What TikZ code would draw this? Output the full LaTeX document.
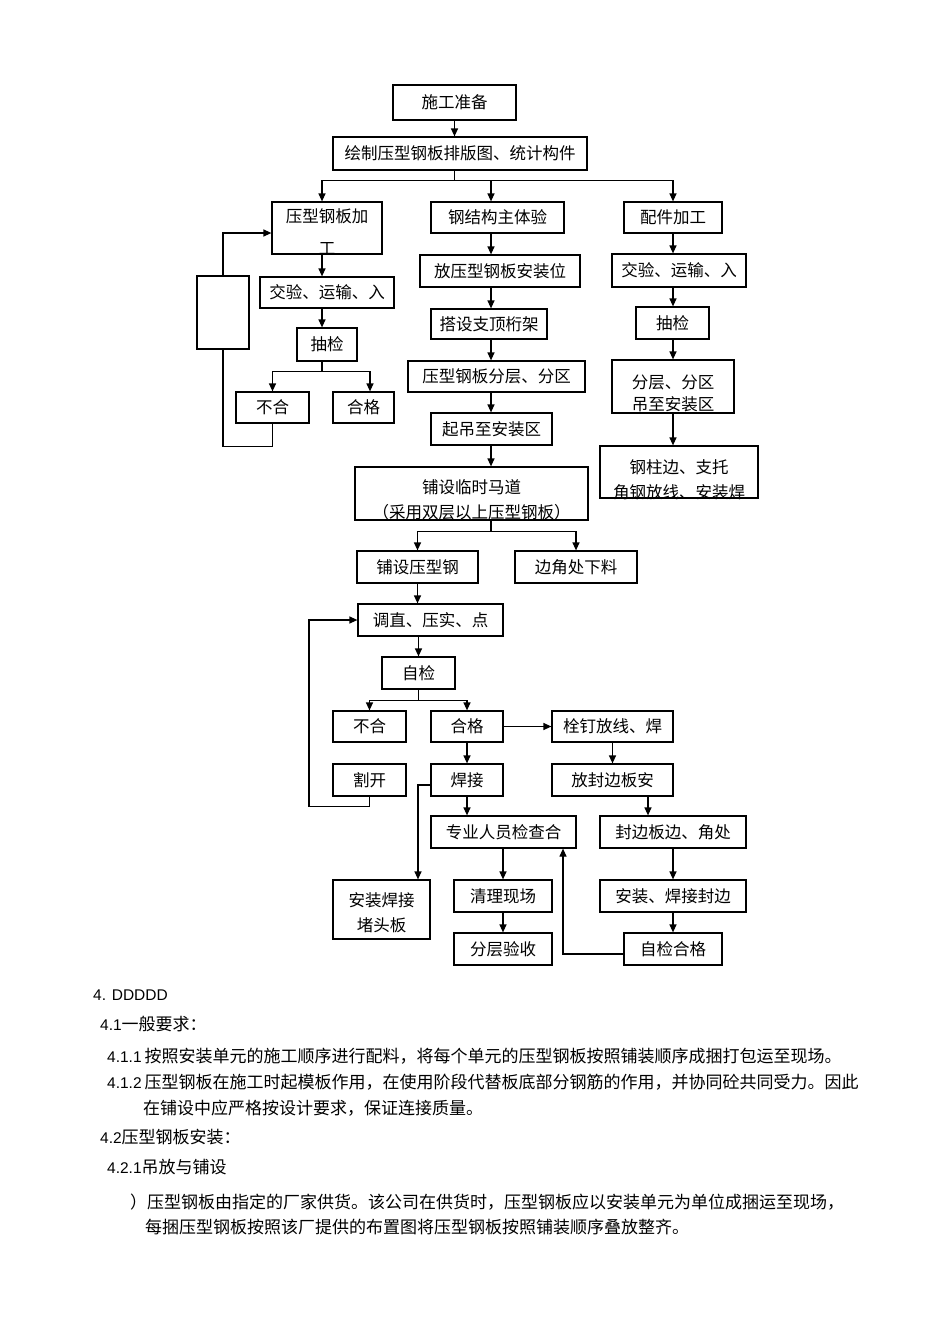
\documentclass[tikz,border=0pt]{standalone}
\usepackage{fontspec}
\setmainfont{Liberation Sans}
\newfontfamily\cjk{Noto Sans CJK SC}
\newfontfamily\lat{Liberation Sans}
\usetikzlibrary{arrows.meta,calc}
\newcommand{\secno}[1]{{\lat\fontsize{15.5}{18}\selectfont #1}}

\begin{document}
\begin{tikzpicture}[x=1pt,y=-1pt,
  blk/.style={draw, line width=1.2pt, fill=white, inner sep=0pt, align=center, font={\cjk\fontsize{16.5}{22}\selectfont}},
  sz/.style 2 args={minimum width=#1pt, minimum height=#2pt},
  low/.style n args={3}{text height=#1pt, text depth=#2pt, font={\cjk\fontsize{16.5}{#3}\selectfont}},
  arr/.style={line width=1.2pt, -{Triangle[length=8pt,width=7pt]}},
  ln/.style={line width=1.2pt},
  para/.style={anchor=west, inner sep=0pt, font={\cjk\fontsize{17}{20}\selectfont}}]
\path[use as bounding box, fill=white] (0,0) rectangle (950,1344);
\coordinate (xl) at (322,0);
\coordinate (xm) at (491,0);
\coordinate (xr) at (673,0);
\coordinate (xp) at (418,0);
\coordinate (xs) at (648,0);
\coordinate (xq) at (563,0);
\coordinate (xloop) at (309,0);

% top
\node[blk, sz={123}{35}] (prep) at (454.5,102.5) {施工准备};
\node[blk, sz={254}{33}] (plan) at (460,153.5) {绘制压型钢板排版图、统计构件};

% left column
\node[blk, sz={110}{52}, low={52}{0}{32}] (proc) at (327,228) {压型钢板加\\工};
\node[blk, sz={134}{31}] (chkA) at (327,292.5) {交验、运输、入};
\node[blk, sz={60}{33}] (sampA) at (327,344.5) {抽检};
\node[blk, sz={73}{31}] (badA) at (272.5,407.5) {不合};
\node[blk, sz={61}{31}] (okA) at (363.5,407.5) {合格};
\node[blk, sz={52}{73}] (blank) at (223,312.5) {};

% middle column
\node[blk, sz={133}{31}] (body) at (497.5,217.5) {钢结构主体验};
\node[blk, sz={160}{32}] (place) at (500,271) {放压型钢板安装位};
\node[blk, sz={116}{30}] (frame) at (489,324) {搭设支顶桁架};
\node[blk, sz={177}{31}] (zoneA) at (496.5,376.5) {压型钢板分层、分区};
\node[blk, sz={121}{32}] (hoist) at (491.5,429) {起吊至安装区};
\node[blk, sz={233}{53}, low={51}{2}{25}] (walk) at (471.5,493.5) {铺设临时马道\\（采用双层以上压型钢板）};
\node[blk, sz={121}{32}] (lay) at (417.5,567) {铺设压型钢};
\node[blk, sz={122}{32}] (trim) at (576,567) {边角处下料};
\node[blk, sz={145}{32}] (press) at (430.5,620) {调直、压实、点};
\node[blk, sz={73}{32}] (selfA) at (418.5,673) {自检};
\node[blk, sz={73}{31}] (badB) at (369.5,726.5) {不合};
\node[blk, sz={72}{31}] (okB) at (467,726.5) {合格};
\node[blk, sz={121}{31}] (stud) at (612.5,726.5) {栓钉放线、焊};
\node[blk, sz={73}{32}] (cut) at (369.5,780) {割开};
\node[blk, sz={72}{32}] (weld) at (467,780) {焊接};
\node[blk, sz={121}{32}] (seal) at (612.5,780) {放封边板安};
\node[blk, sz={145}{32}] (check) at (503.5,832) {专业人员检查合};
\node[blk, sz={146}{32}] (corner) at (673,832) {封边板边、角处};
\node[blk, sz={97}{59}, low={51}{8}{25}] (plug) at (381.5,909.5) {安装焊接\\堵头板};
\node[blk, sz={98}{32}] (clean) at (503,896) {清理现场};
\node[blk, sz={146}{32}] (fix) at (673,896) {安装、焊接封边};
\node[blk, sz={98}{32}] (accept) at (503,949) {分层验收};
\node[blk, sz={98}{32}] (selfB) at (673,949) {自检合格};

% right column
\node[blk, sz={98}{31}] (part) at (673,217.5) {配件加工};
\node[blk, sz={134}{33}] (chkB) at (679,270.5) {交验、运输、入};
\node[blk, sz={73}{32}] (sampB) at (672.5,323) {抽检};
\node[blk, sz={122}{53}, low={50}{3}{22}] (zoneB) at (673,386.5) {分层、分区\\吊至安装区};
\node[blk, sz={158}{52}, low={52}{0}{25}] (col) at (679,472) {钢柱边、支托\\角钢放线、安装焊};

% connectors
\draw[arr] (prep.south) -- (prep.south |- plan.north);
\draw[ln] (prep.south |- plan.south) -- ++(0,10) coordinate (forkA);
\draw[arr] (forkA) -| (proc.north -| xl);
\draw[arr] (forkA) -| (body.north -| xm);
\draw[arr] (forkA) -| (part.north -| xr);

\draw[arr] (proc.south -| xl) -- (chkA.north -| xl);
\draw[arr] (chkA.south -| xl) -- (sampA.north -| xl);
\draw[ln] (sampA.south -| xl) -- ++(0,10) coordinate (forkB);
\draw[arr] (forkB) -| (badA.north);
\draw[arr] (forkB) -| ([xshift=6.5pt]okA.north);
\draw[ln] (badA.south) -- ++(0,23) -| (blank.south);
\draw[arr] (blank.north) |- ([yshift=-5pt]proc.west);

\draw[arr] (body.south -| xm) -- (place.north -| xm);
\draw[arr] (place.south -| xm) -- (frame.north -| xm);
\draw[arr] (frame.south -| xm) -- (zoneA.north -| xm);
\draw[arr] (zoneA.south -| xm) -- (hoist.north -| xm);
\draw[arr] (hoist.south -| xm) -- (walk.north -| xm);
\draw[ln] (walk.south -| xm) -- ++(0,11) coordinate (forkC);
\draw[arr] (forkC) -| (lay.north);
\draw[arr] (forkC) -| (trim.north);
\draw[arr] (lay.south) -- (lay.south |- press.north);
\draw[arr] (press.south -| selfA.north) -- (selfA.north);
\draw[ln] (selfA.south) -- ++(0,11) coordinate (forkD);
\draw[arr] (forkD) -| (badB.north);
\draw[arr] (forkD) -| (okB.north);
\draw[arr] (okB.east) -- (stud.west);
\draw[arr] (okB.south) -- (weld.north);
\draw[arr] (stud.south) -- (seal.north);
\draw[arr] (cut.south) -- ++(0,10) -| (xloop |- press.west) -- (press.west);
\draw[arr] ([yshift=-5pt]weld.west) -| (plug.north -| xp);
\draw[arr] (weld.south) -- (weld.south |- check.north);
\draw[arr] (check.south -| clean.north) -- (clean.north);
\draw[arr] (clean.south) -- (accept.north);
\draw[arr] (seal.south -| xs) -- (corner.north -| xs);
\draw[arr] (corner.south) -- (fix.north);
\draw[arr] (fix.south) -- (selfB.north);
\draw[arr] ([yshift=-5pt]selfB.west) -| (check.south -| xq);

\draw[arr] (part.south) -- (part.south |- chkB.north);
\draw[arr] (chkB.south -| xr) -- (sampB.north -| xr);
\draw[arr] (sampB.south -| xr) -- (zoneB.north -| xr);
\draw[arr] (zoneB.south) -- (zoneB.south |- col.north);

% text below
\node[para] (h4) at (93,995) {\secno{4. DDDDD}};
\node[para] (h41) at (100,1024) {\secno{4.1}一般要求：};
\node[para] (p411) at (107,1056) {\secno{4.1.1}\,按照安装单元的施工顺序进行配料，将每个单元的压型钢板按照铺装顺序成捆打包运至现场。};
\node[para] (p412) at (107,1082) {\secno{4.1.2}\,压型钢板在施工时起模板作用，在使用阶段代替板底部分钢筋的作用，并协同砼共同受力。因此};
\node[para] (p412b) at (143,1108) {在铺设中应严格按设计要求，保证连接质量。};
\node[para] (h42) at (100,1137) {\secno{4.2}压型钢板安装：};
\node[para] (h421) at (107,1167) {\secno{4.2.1}吊放与铺设};
\node[para] (p1) at (130,1202) {）压型钢板由指定的厂家供货。该公司在供货时，压型钢板应以安装单元为单位成捆运至现场，};
\node[para] (p2) at (145,1227) {每捆压型钢板按照该厂提供的布置图将压型钢板按照铺装顺序叠放整齐。};
\end{tikzpicture}
\end{document}
